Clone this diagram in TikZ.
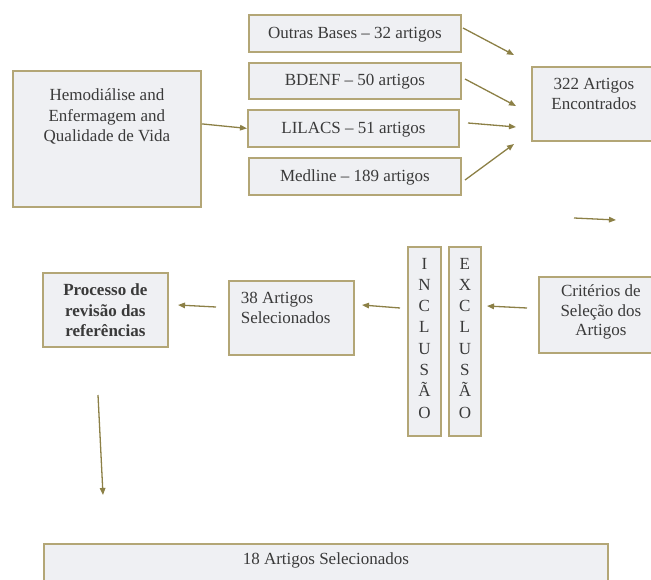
\documentclass[tikz,border=0pt]{standalone}
\usepackage{fontspec}
\setmainfont{Liberation Serif}
\usepackage{tikz}
\usetikzlibrary{arrows.meta}
\definecolor{boxline}{HTML}{B3A676}
\definecolor{boxfill}{HTML}{EFF0F3}
\definecolor{arrowcol}{HTML}{8C8046}
\definecolor{txtcol}{HTML}{3A3A3A}
\newcommand{\boxtxt}[4]{\parbox[t][#2][t]{#1}{\vspace*{#3}#4}}

\begin{document}
\begin{tikzpicture}
            [x=1pt,y=-1pt,
             every node/.style={font=\fontsize{17}{20.5}\selectfont,text=txtcol},
             box/.style={draw=boxline,fill=boxfill,line width=1.8pt,inner sep=0pt,anchor=north west},
             arr/.style={draw=arrowcol,line width=1.3pt,-{Triangle[length=7pt,width=5.5pt]}}]
            \useasboundingbox (0,0) rectangle (651,580);
            % search
            \node[box] (hemo) at (12,70) {\boxtxt{188pt}{136pt}{18pt}{\centering Hemodiálise and\\Enfermagem and\\Qualidade de Vida}};
            \node[box] (outras) at (248,14) {\boxtxt{212pt}{37pt}{12pt}{\centering Outras Bases -- 32 artigos}};
            \node[box] (bdenf) at (248,62) {\boxtxt{212pt}{36pt}{11pt}{\centering BDENF -- 50 artigos}};
            \node[box] (lilacs) at (247,109) {\boxtxt{211pt}{37pt}{12pt}{\centering LILACS -- 51 artigos}};
            \node[box] (medline) at (248,157) {\boxtxt{212pt}{37pt}{12pt}{\centering Medline -- 189 artigos}};
            \node[box] (enc) at (531,66) {\boxtxt{124pt}{74pt}{11pt}{\centering 322 Artigos\\Encontrados}};
            % selection
            \node[box] (crit) at (538,276) {\boxtxt{124pt}{76pt}{8pt}{\centering\baselineskip=19.5pt Critérios de\\Seleção dos\\Artigos}};
            \node[box] (excl) at (448,246) {\boxtxt{32pt}{189pt}{11pt}{\centering\baselineskip=21.3pt E\\X\\C\\L\\U\\S\\Ã\\O}};
            \node[box] (incl) at (407,246) {\boxtxt{33pt}{189pt}{11pt}{\centering\baselineskip=21.3pt I\\N\\C\\L\\U\\S\\Ã\\O}};
            \node[box] (sel38) at (228,280) {\boxtxt{125pt}{74pt}{11pt}{\raggedright\leftskip=12pt 38 Artigos\\Selecionados}};
            \node[box] (proc) at (42,272) {\boxtxt{125pt}{74pt}{11pt}{\centering\bfseries Processo de\\revisão das\\referências}};
            \node[box] (final) at (43,543) {\boxtxt{564pt}{60pt}{9pt}{\centering 18 Artigos Selecionados}};
            % arrow ends
            \coordinate (o1) at (463,28);  \coordinate (o2) at (514,55);
            \coordinate (b1) at (465,79);  \coordinate (b2) at (516,106);
            \coordinate (l1) at (468,123); \coordinate (l2) at (516,127);
            \coordinate (m1) at (465,180); \coordinate (m2) at (514,144);
            \coordinate (s1) at (574,218); \coordinate (s2) at (616,220);
            \coordinate (c1) at (527,308); \coordinate (c2) at (487,306);
            \coordinate (i1) at (400,308); \coordinate (i2) at (362,305);
            \coordinate (r1) at (216,307); \coordinate (r2) at (178,305);
            \coordinate (d1) at (98,395);  \coordinate (d2) at (103,495);
            % arrows
            \draw[arr] ([yshift=15pt]hemo.east) -- (lilacs.west);
            \draw[arr] (o1) -- (o2);
            \draw[arr] (b1) -- (b2);
            \draw[arr] (l1) -- (l2);
            \draw[arr] (m1) -- (m2);
            \draw[arr] (s1) -- (s2);
            \draw[arr] (c1) -- (c2);
            \draw[arr] (i1) -- (i2);
            \draw[arr] (r1) -- (r2);
            \draw[arr] (d1) -- (d2);
\end{tikzpicture}
\end{document}
